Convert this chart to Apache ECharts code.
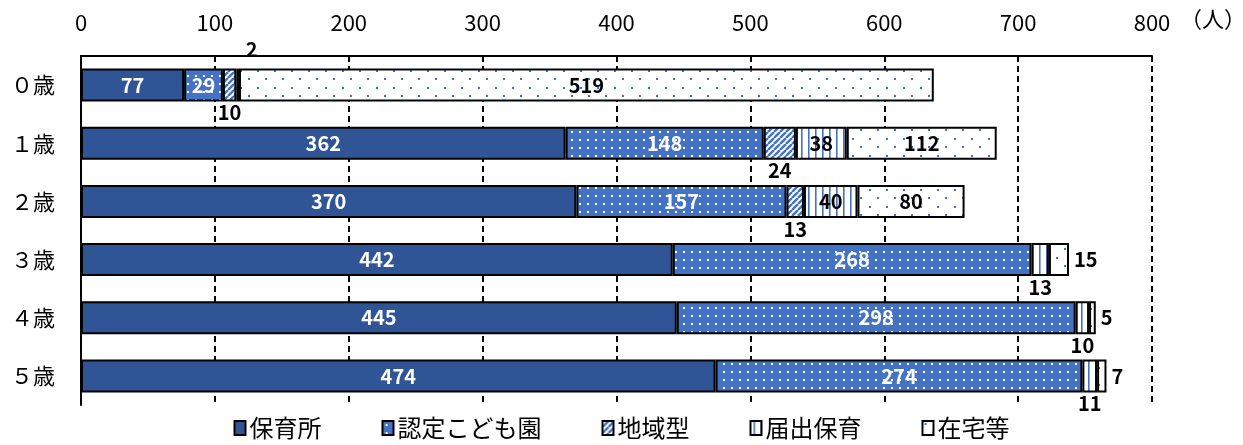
<!DOCTYPE html>
<html><head><meta charset="utf-8">
<script src="https://cdn.jsdelivr.net/npm/echarts@6/dist/echarts.min.js"></script>
<style>html,body{margin:0;padding:0;background:#fff}#c{width:1243px;height:445px}</style>
</head><body><div id="c"></div>
<script>
const categories = ['０歳','１歳','２歳','３歳','４歳','５歳'];
const seriesNames = ['保育所','認定こども園','地域型','届出保育','在宅等'];
const hoikusho = [77,362,370,442,445,474];
const kodomoen = [29,148,157,268,298,274];
const chiiki   = [10,24,13,0,0,0];
const todokede = [2,38,40,13,10,11];
const zaitaku  = [519,112,80,15,5,7];
const xTicks = [0,100,200,300,400,500,600,700,800];

const FONT = '"Noto Sans CJK JP","Noto Sans",sans-serif';
const BLUE = '#4472C4', DARK = '#2F5597';

function pat(w,h,draw){const c=document.createElement('canvas');c.width=w;c.height=h;const x=c.getContext('2d');draw(x);return {image:c,repeat:'repeat'};}
const fills = [
  DARK,
  pat(8,8,x=>{x.fillStyle=BLUE;x.fillRect(0,0,8,8);x.fillStyle='#fff';x.fillRect(3,3,2,2);}),
  pat(6,6,x=>{x.fillStyle='#fff';x.fillRect(0,0,6,6);x.strokeStyle=BLUE;x.lineWidth=2.4;x.beginPath();for(let k=-6;k<=12;k+=6){x.moveTo(k,6);x.lineTo(k+6,0);}x.stroke();}),
  pat(7,4,x=>{x.fillStyle='#fff';x.fillRect(0,0,7,4);x.fillStyle=BLUE;x.fillRect(3,0,1.6,4);}),
  pat(17,17,x=>{x.fillStyle='#fff';x.fillRect(0,0,17,17);x.fillStyle=BLUE;x.fillRect(2,2,2,2);x.fillRect(10,10,2,2);})
];
// label placement per series per category (style only)
const labelPos = [
  ['inside','inside','inside','inside','inside','inside'],
  ['inside','inside','inside','inside','inside','inside'],
  ['bottom','bottom','bottom',null,null,null],
  ['top','inside','inside','bottom','bottom','bottom'],
  ['inside','inside','inside','right','right','right']
];
const labelColor = ['#fff','#fff','#000','#000','#000'];
const values = [hoikusho,kodomoen,chiiki,todokede,zaitaku];

const series = values.map((vals,si)=>({
  name: seriesNames[si], type:'bar', stack:'a', barWidth:33,
  itemStyle:{color:fills[si],borderColor:'#000',borderWidth:2},
  emphasis:{disabled:true},
  data: vals.map((v,ci)=>{
    const pos = labelPos[si][ci];
    const d = {value:v};
    if (v===0) d.itemStyle={borderWidth:0};
    if (!pos || v===0) { d.label={show:false}; return d; }
    const inside = pos==='inside';
    d.label = {show:true, position:pos, color: inside?labelColor[si]:'#000',
      fontFamily:FONT, fontSize:20, fontWeight:'bold',
      distance: pos==='top'?9:(pos==='right'?5:1),
      offset: pos==='top'?[14,0]:[0,0]};
    return d;
  })
}));

const chart = echarts.init(document.getElementById('c'),null,{renderer:'canvas'});
chart.setOption({
  animation:false,
  grid:{left:81,right:91,top:56,bottom:40,containLabel:false},
  xAxis:{type:'value',position:'top',min:0,max:800,interval:100,
    axisLine:{show:true,lineStyle:{color:'#000',width:2}},
    axisTick:{show:false},
    axisLabel:{color:'#000',fontFamily:FONT,fontSize:22,margin:22,
      formatter:v=>xTicks.includes(v)?String(v):''},
    splitLine:{show:true,lineStyle:{color:'#000',width:2,type:[6,4]}}},
  yAxis:{type:'category',inverse:true,data:categories,
    axisLine:{show:true,lineStyle:{color:'#000',width:2}},
    axisTick:{show:false},
    axisLabel:{color:'#000',fontFamily:FONT,fontSize:22,margin:26}},
  legend:{bottom:0,left:'center',itemWidth:11,itemHeight:14,itemGap:60,
    icon:'rect',
    textStyle:{color:'#000',fontFamily:FONT,fontSize:24,padding:[0,0,0,-1]},
    data:seriesNames},
  graphic:[{type:'text',left:1180,top:8,style:{text:'（人）',fill:'#000',font:'22px '+FONT}}],
  series
});
</script></body></html>
